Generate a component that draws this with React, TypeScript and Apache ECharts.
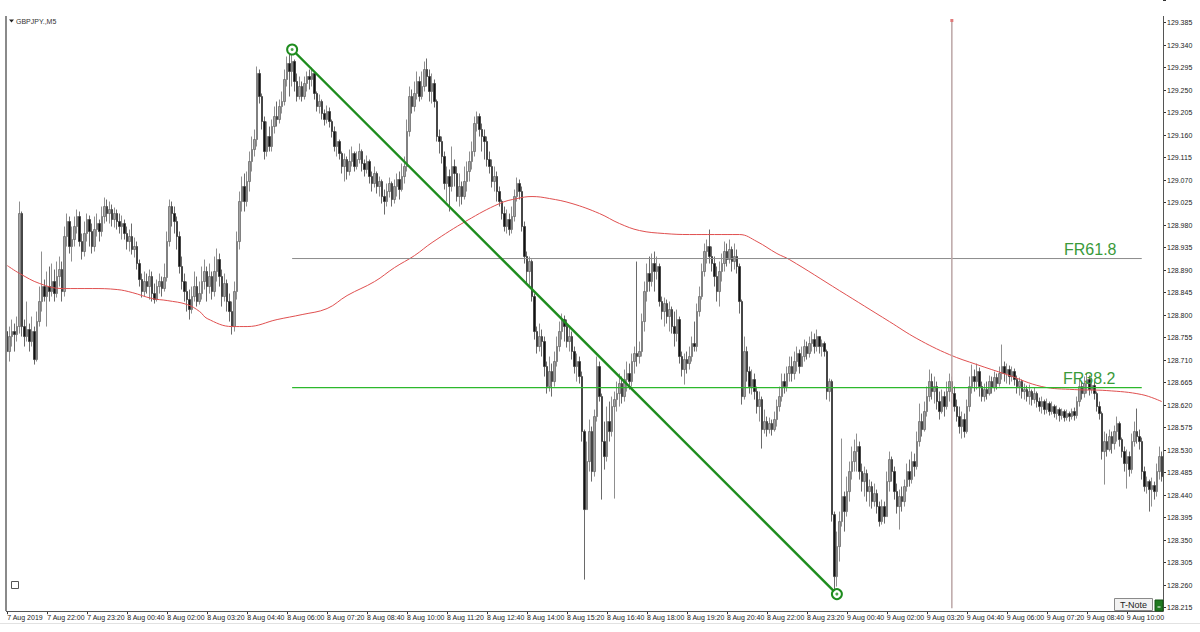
import React, { useEffect, useRef } from 'react';
import * as echarts from 'echarts';

// Prices are stored as thousandths above BASE (e.g. 913 -> 128.913)
const BASE = 128;
const OPEN0 = 767;

const CLOSE = [
727,757,767,761,777,1003,777,757,771,747,767,711,787,827,857,837,857,847,
867,843,877,891,847,957,987,937,951,977,997,947,927,963,991,967,937,971,983,967,
997,1017,1003,1011,991,1003,987,977,983,963,947,957,931,937,903,871,847,867,857,877,843,831,857,867,853,875,947,1017,1003,987,957,897,867,847,831,811,837,857,827,843,
867,887,857,877,847,887,911,877,837,863,827,807,777,847,947,1027,1057,1027,1067,1107,1131,1151,1283,1237,1187,1127,1157,1137,1177,1197,1191,1217,1227,1271,1303,1287,1307,1267,1237,1257,
1237,1263,1277,1271,1283,1243,1217,1227,1203,1191,1207,1187,1167,1137,1147,1123,1097,1111,1087,1107,1123,1097,1111,1127,1103,1091,1107,1077,1063,1083,1057,1067,1037,1027,1047,1063,1031,1057,1071,1051,
1077,1097,1167,1237,1217,1243,1267,1237,1257,1291,1277,1247,1263,1227,1157,1147,1117,1063,1077,1057,1097,1083,1037,1057,1037,1067,1087,1107,1127,1183,1197,1171,1157,1147,1111,1097,1067,1077,1047,1027,
1003,977,991,971,997,1037,1063,1047,977,917,887,907,837,767,737,757,747,697,657,687,667,707,737,767,791,777,747,757,727,697,707,677,567,411,507,567,487,597,697,637,
547,517,587,567,617,631,643,663,637,671,683,667,707,723,717,727,787,847,883,867,903,887,897,827,807,823,797,811,777,763,791,717,691,711,703,717,743,737,807,837,
887,927,937,917,903,877,847,887,903,927,911,931,907,917,897,827,637,727,687,657,671,647,617,631,571,587,571,583,571,591,617,637,667,657,683,697,683,707,723,697,
717,737,723,743,751,737,757,737,743,727,647,667,401,277,337,387,437,407,447,487,507,527,537,487,467,483,447,457,427,443,417,387,417,397,467,511,487,447,417,437,
427,457,487,471,507,497,547,587,571,607,637,667,647,657,627,607,637,617,647,667,643,617,597,577,591,567,617,657,677,667,687,657,637,651,643,667,655,675,663,683,
697,683,691,677,687,671,657,667,647,651,637,647,631,643,627,617,627,611,623,607,617,603,611,599,607,595,603,597,607,599,627,657,643,663,671,651,659,643,617,603,527,547,531,557,543,567,583,551,527,503,517,491,547,567,557,547,487,457,467,451,459,447,487,517,477
];

const HIGH = [
783,777,791,783,797,1027,1007,791,827,783,797,777,807,857,927,871,887,897,
903,891,907,917,907,977,1003,997,977,997,1011,1007,963,987,1003,999,983,997,1003,991,
1017,1035,1031,1027,1021,1015,1011,1003,999,991,977,971,983,955,947,911,883,887,883,891,887,863,871,883,877,903,967,1031,1027,1017,997,967,917,883,867,851,857,887,877,867,
897,911,897,903,887,917,933,923,891,883,871,843,827,867,967,1047,1077,1083,1087,1127,1157,1171,1297,1291,1243,1197,1187,1177,1191,1217,1227,1231,1247,1291,1317,1323,1329,1311,1283,1277,
1267,1277,1287,1291,1295,1283,1247,1241,1231,1211,1219,1215,1191,1177,1167,1151,1127,1123,1117,1131,1137,1127,1127,1143,1131,1111,1119,1111,1087,1097,1087,1077,1071,1051,1063,1075,1067,1071,1083,1087,
1103,1117,1191,1257,1251,1267,1287,1277,1287,1307,1313,1291,1283,1271,1231,1171,1157,1127,1097,1091,1137,1111,1097,1083,1067,1097,1107,1127,1147,1197,1207,1203,1183,1171,1157,1127,1111,1097,1087,1057,
1031,1017,1011,1003,1017,1051,1075,1071,1057,987,927,917,911,843,777,783,771,757,707,717,703,727,757,787,803,799,791,777,767,737,723,717,687,571,547,591,577,611,717,707,
643,587,617,627,637,647,667,683,677,691,707,703,723,737,907,747,803,867,903,917,923,927,917,903,837,835,831,827,817,807,811,797,727,723,727,737,757,787,823,857,
903,943,951,971,937,917,897,907,923,947,943,951,937,943,931,903,831,757,737,697,691,683,657,647,637,611,597,595,591,607,631,657,683,683,697,717,717,727,737,731,
737,751,747,757,767,763,771,757,751,747,731,673,671,407,367,407,553,447,477,507,537,551,563,547,503,497,491,471,467,463,451,427,431,427,487,527,517,497,463,451,
457,471,503,511,527,523,567,623,603,627,657,691,683,677,667,647,651,647,667,683,677,657,631,617,607,603,631,677,701,691,703,695,667,663,667,679,677,687,683,697,
741,707,703,699,697,693,679,675,671,663,659,661,651,655,647,635,637,631,633,627,627,621,619,615,613,611,611,607,613,615,637,671,667,677,683,679,675,667,647,627,607,567,563,571,567,579,597,587,555,537,531,527,563,587,613,571,555,497,477,471,475,467,503,537,527
];

const LOW = [
671,707,737,727,747,763,757,737,747,727,737,701,707,777,807,827,777,827,
837,827,835,857,827,837,937,923,907,937,963,937,911,917,947,937,923,927,957,947,
957,983,987,983,977,975,971,963,951,951,931,927,921,915,891,857,835,837,843,831,827,823,827,843,837,847,867,937,977,963,931,883,851,827,807,791,803,827,817,821,
831,851,827,843,831,837,867,857,817,827,807,787,761,767,831,931,1007,1007,1017,1047,1087,1117,1137,1223,1171,1111,1117,1127,1127,1163,1177,1183,1203,1219,1257,1237,1257,1247,1227,1231,
1227,1231,1247,1251,1257,1231,1207,1203,1191,1179,1183,1175,1155,1127,1117,1111,1083,1067,1071,1079,1097,1087,1091,1103,1087,1077,1083,1063,1047,1055,1043,1037,1023,1001,1017,1035,1017,1023,1037,1031,
1047,1063,1087,1157,1203,1207,1231,1227,1231,1247,1257,1227,1223,1215,1147,1123,1103,1051,1027,1007,1047,1057,1027,1017,1021,1031,1047,1067,1091,1117,1167,1157,1127,1111,1097,1083,1055,1047,1027,1017,
991,967,963,959,963,987,1027,1031,967,903,863,857,827,751,723,727,717,677,643,647,637,657,697,727,751,747,735,727,711,683,667,663,547,271,443,487,467,477,587,627,
431,491,507,547,557,433,607,617,623,627,647,651,657,683,697,703,717,767,827,847,857,847,871,817,791,777,783,767,763,737,747,703,677,661,683,691,707,727,727,797,
831,877,903,903,887,857,827,817,867,887,897,903,887,891,883,803,621,631,667,643,641,631,603,587,533,563,557,563,559,567,577,607,627,643,647,667,667,671,687,683,
703,707,711,715,727,723,727,723,717,717,631,627,387,251,257,307,377,367,397,427,471,487,487,471,447,437,427,417,413,417,403,377,381,383,397,447,467,431,403,371,
407,417,447,457,463,477,491,537,557,567,597,627,631,623,611,591,603,597,611,627,623,607,587,563,553,555,563,607,643,647,651,637,627,627,631,639,643,647,651,657,
671,667,663,661,667,659,643,639,633,631,627,621,619,623,615,607,603,601,603,599,601,595,591,587,591,587,589,587,591,589,593,617,631,635,643,639,643,631,607,591,511,461,517,527,523,531,547,537,515,487,453,477,483,537,543,531,471,447,443,407,417,431,437,471,467
];

// Moving average read at [bar index, value]
const MA_POINTS = [
[0,899],[5,883],[13,863],[22,853],[34,853],[44,851],[50,845],[58,833],[64,829],[72,821],[77,807],[80,793],[90,777],[96,777],[108,791],[118,801],[128,813],[136,839],[147,867],[155,895],[163,919],[170,945],[184,989],[197,1023],[204,1033],[210,1037],[217,1033],[226,1023],[237,1003],[245,983],[253,969],[263,963],[273,961],[283,961],[293,961],[300,947],[308,923],[313,911],[333,849],[353,787],[364,753],[377,721],[388,701],[400,681],[414,657],[427,651],[440,649],[454,641],[462,627]
];

const TICK_LABELS = [
'7 Aug 2019','7 Aug 22:00','7 Aug 23:20','8 Aug 00:40','8 Aug 02:00','8 Aug 03:20','8 Aug 04:40','8 Aug 06:00','8 Aug 07:20','8 Aug 08:40','8 Aug 10:00','8 Aug 11:20','8 Aug 12:40','8 Aug 14:00','8 Aug 15:20','8 Aug 16:40','8 Aug 18:00','8 Aug 19:20','8 Aug 20:40','8 Aug 22:00','8 Aug 23:20','9 Aug 00:40','9 Aug 02:00','9 Aug 03:20','9 Aug 04:40','9 Aug 06:00','9 Aug 07:20','9 Aug 08:40','9 Aug 10:00'
];
const TICK_EVERY = 16;

const Y_MIN = 128.215;
const Y_MAX = 129.43;
const Y_STEP = 0.045;

const FIB_START = 114;
const FIB_END = 454;
const FIB_618 = 128.913;
const FIB_382 = 128.655;
const TREND = [[114, 129.331], [332, 128.242]];
const VLINE_INDEX = 378;
const VLINE_TOP = 129.389;
const VLINE_BOTTOM = 128.21;

const FONT = 'Liberation Sans, Arial, sans-serif';

function App() {
  const ref = useRef<HTMLDivElement>(null);
  useEffect(() => {
    const chart = echarts.init(ref.current as HTMLDivElement, null, { renderer: 'svg' });
    const n = CLOSE.length;
    const cats: string[] = [];
    const start = Date.UTC(2019, 7, 7, 20, 40);
    for (let i = 0; i < n; i++) {
      const d = new Date(start + i * 300000);
      const hh = String(d.getUTCHours()).padStart(2, '0');
      const mm = String(d.getUTCMinutes()).padStart(2, '0');
      cats.push(`${d.getUTCDate()} Aug ${hh}:${mm}`);
    }
    const toP = (v: number) => BASE + v / 1000;
    const ohlc = CLOSE.map((c, i) => {
      const o = i === 0 ? OPEN0 : CLOSE[i - 1];
      const h = Math.max(HIGH[i], o, c);
      const l = Math.min(LOW[i], o, c);
      return [toP(o), toP(c), toP(l), toP(h)];
    });
    const onGrid = (v: number) => {
      const k = (v - Y_MIN) / Y_STEP;
      return Math.abs(k - Math.round(k)) < 1e-6 && v <= 129.386;
    };
    const option: any = {
      animation: false,
      backgroundColor: '#ffffff',
      textStyle: { fontFamily: FONT },
      grid: { left: 6, right: 37, top: -2.6, bottom: 24.4, containLabel: false },
      xAxis: {
        type: 'category',
        data: cats,
        boundaryGap: true,
        offset: 3.6,
        axisLine: { show: false },
        axisTick: {
          show: true,
          alignWithLabel: true,
          interval: (i: number) => i % TICK_EVERY === 0,
          length: 3,
          lineStyle: { color: '#333', width: 1 },
        },
        axisLabel: {
          interval: (i: number) => i % TICK_EVERY === 0,
          formatter: (_v: string, i: number) => (i % TICK_EVERY === 0 ? (TICK_LABELS[i / TICK_EVERY] || '') : ''),
          fontSize: 7,
          color: '#222',
          align: 'left',
          margin: 3,
          showMinLabel: true,
          showMaxLabel: true,
          fontFamily: FONT,
        },
        splitLine: { show: false },
      },
      yAxis: {
        type: 'value',
        position: 'right',
        min: Y_MIN,
        max: Y_MAX,
        interval: Y_STEP,
        scale: true,
        axisLine: { show: false },
        axisTick: { show: true, length: 3, lineStyle: { color: '#333', width: 1 } },
        axisLabel: {
          fontSize: 7,
          color: '#222',
          margin: 4,
          fontFamily: FONT,
          formatter: (v: number) => (onGrid(v) ? v.toFixed(3) : ''),
        },
        splitLine: { show: false },
      },
      series: [
        {
          type: 'candlestick',
          data: ohlc,
          barWidth: 2,
          itemStyle: {
            color: '#a3a3a3',
            color0: '#111111',
            borderColor: '#5e5e5e',
            borderColor0: '#2a2a2a',
            borderWidth: 0.7,
          },
          z: 2,
        },
        {
          type: 'line',
          data: MA_POINTS.map(([i, v]) => [i, toP(v)]),
          smooth: 0.4,
          showSymbol: false,
          lineStyle: { color: '#e05050', width: 1 },
          z: 3,
          silent: true,
        },
        {
          type: 'line',
          data: [[FIB_START, FIB_618], [FIB_END, FIB_618]],
          showSymbol: false,
          lineStyle: { color: '#8c8c8c', width: 1 },
          z: 4,
          silent: true,
        },
        {
          type: 'line',
          data: [[FIB_START, FIB_382], [FIB_END, FIB_382]],
          showSymbol: false,
          lineStyle: { color: '#2cb82c', width: 1.2 },
          z: 4,
          silent: true,
        },
        {
          type: 'line',
          data: [[VLINE_INDEX, VLINE_TOP], [VLINE_INDEX, VLINE_BOTTOM]],
          showSymbol: true,
          showAllSymbol: true,
          symbol: 'rect',
          symbolSize: [3, 3],
          itemStyle: { color: '#e07a7a' },
          lineStyle: { color: '#bba6a6', width: 1.5 },
          z: 4,
          silent: true,
        },
        {
          type: 'line',
          data: TREND,
          showSymbol: true,
          showAllSymbol: true,
          symbol: 'emptyCircle',
          symbolSize: 10,
          itemStyle: { color: '#1e8c1e', borderWidth: 1.6 },
          lineStyle: { color: '#1e8c1e', width: 2.4 },
          z: 5,
          silent: true,
        },
        {
          type: 'scatter',
          data: TREND,
          symbol: 'circle',
          symbolSize: 3,
          itemStyle: { color: '#1e8c1e' },
          z: 6,
          silent: true,
        },
      ],
      graphic: [
        { type: 'line', silent: true, shape: { x1: 6, y1: 16, x2: 6, y2: 611 }, style: { stroke: '#8a8a8a', lineWidth: 2 }, z: 100 },
        { type: 'line', silent: true, shape: { x1: 6, y1: 611.5, x2: 1163.5, y2: 611.5 }, style: { stroke: '#555', lineWidth: 1 }, z: 100 },
        { type: 'line', silent: true, shape: { x1: 1163.5, y1: 16, x2: 1163.5, y2: 611.5 }, style: { stroke: '#555', lineWidth: 1 }, z: 100 },
        { type: 'line', silent: true, shape: { x1: 0, y1: 623.5, x2: 1200, y2: 623.5 }, style: { stroke: '#e2e2e2', lineWidth: 1 }, z: 100 },
        { type: 'polygon', silent: true, shape: { points: [[9, 19.5], [14, 19.5], [11.5, 22.5]] }, style: { fill: '#222' }, z: 100 },
        { type: 'text', silent: true, x: 16, y: 21, style: { text: 'GBPJPY.,M5', fontSize: 7, fill: '#333', verticalAlign: 'middle', fontFamily: FONT }, z: 100 },
        { type: 'text', silent: true, x: 1064, y: 257, style: { text: 'FR61.8', fontSize: 16, fill: '#3a9a3a', verticalAlign: 'bottom', fontFamily: FONT }, z: 100 },
        { type: 'text', silent: true, x: 1063, y: 386, style: { text: 'FR38.2', fontSize: 16, fill: '#3a9a3a', verticalAlign: 'bottom', fontFamily: FONT }, z: 100 },
        { type: 'rect', silent: true, shape: { x: 11.5, y: 581.5, width: 7, height: 7 }, style: { fill: '#fff', stroke: '#555', lineWidth: 1 }, z: 100 },
        { type: 'rect', silent: true, shape: { x: 1114.5, y: 598.5, width: 38, height: 12 }, style: { fill: '#f2f2f2', stroke: '#8a8a8a', lineWidth: 1 }, z: 100 },
        { type: 'text', silent: true, x: 1133.5, y: 604.5, style: { text: 'T-Note', fontSize: 9, fill: '#222', align: 'center', verticalAlign: 'middle', fontFamily: FONT }, z: 101 },
        { type: 'rect', silent: true, shape: { x: 1155, y: 600, width: 8, height: 11 }, style: { fill: '#1f7a1f', stroke: '#145214', lineWidth: 1 }, z: 100 },
        { type: 'line', silent: true, shape: { x1: 1157.5, y1: 607, x2: 1160.5, y2: 607 }, style: { stroke: '#ffffff', lineWidth: 1 }, z: 101 },
      ],
    };
    chart.setOption(option);
    return () => chart.dispose();
  }, []);
  return (
    <div
      ref={ref}
      style={{ position: 'fixed', left: 0, top: 0, width: 1200, height: 632, background: '#fff' }}
    />
  );
}

export default App;
